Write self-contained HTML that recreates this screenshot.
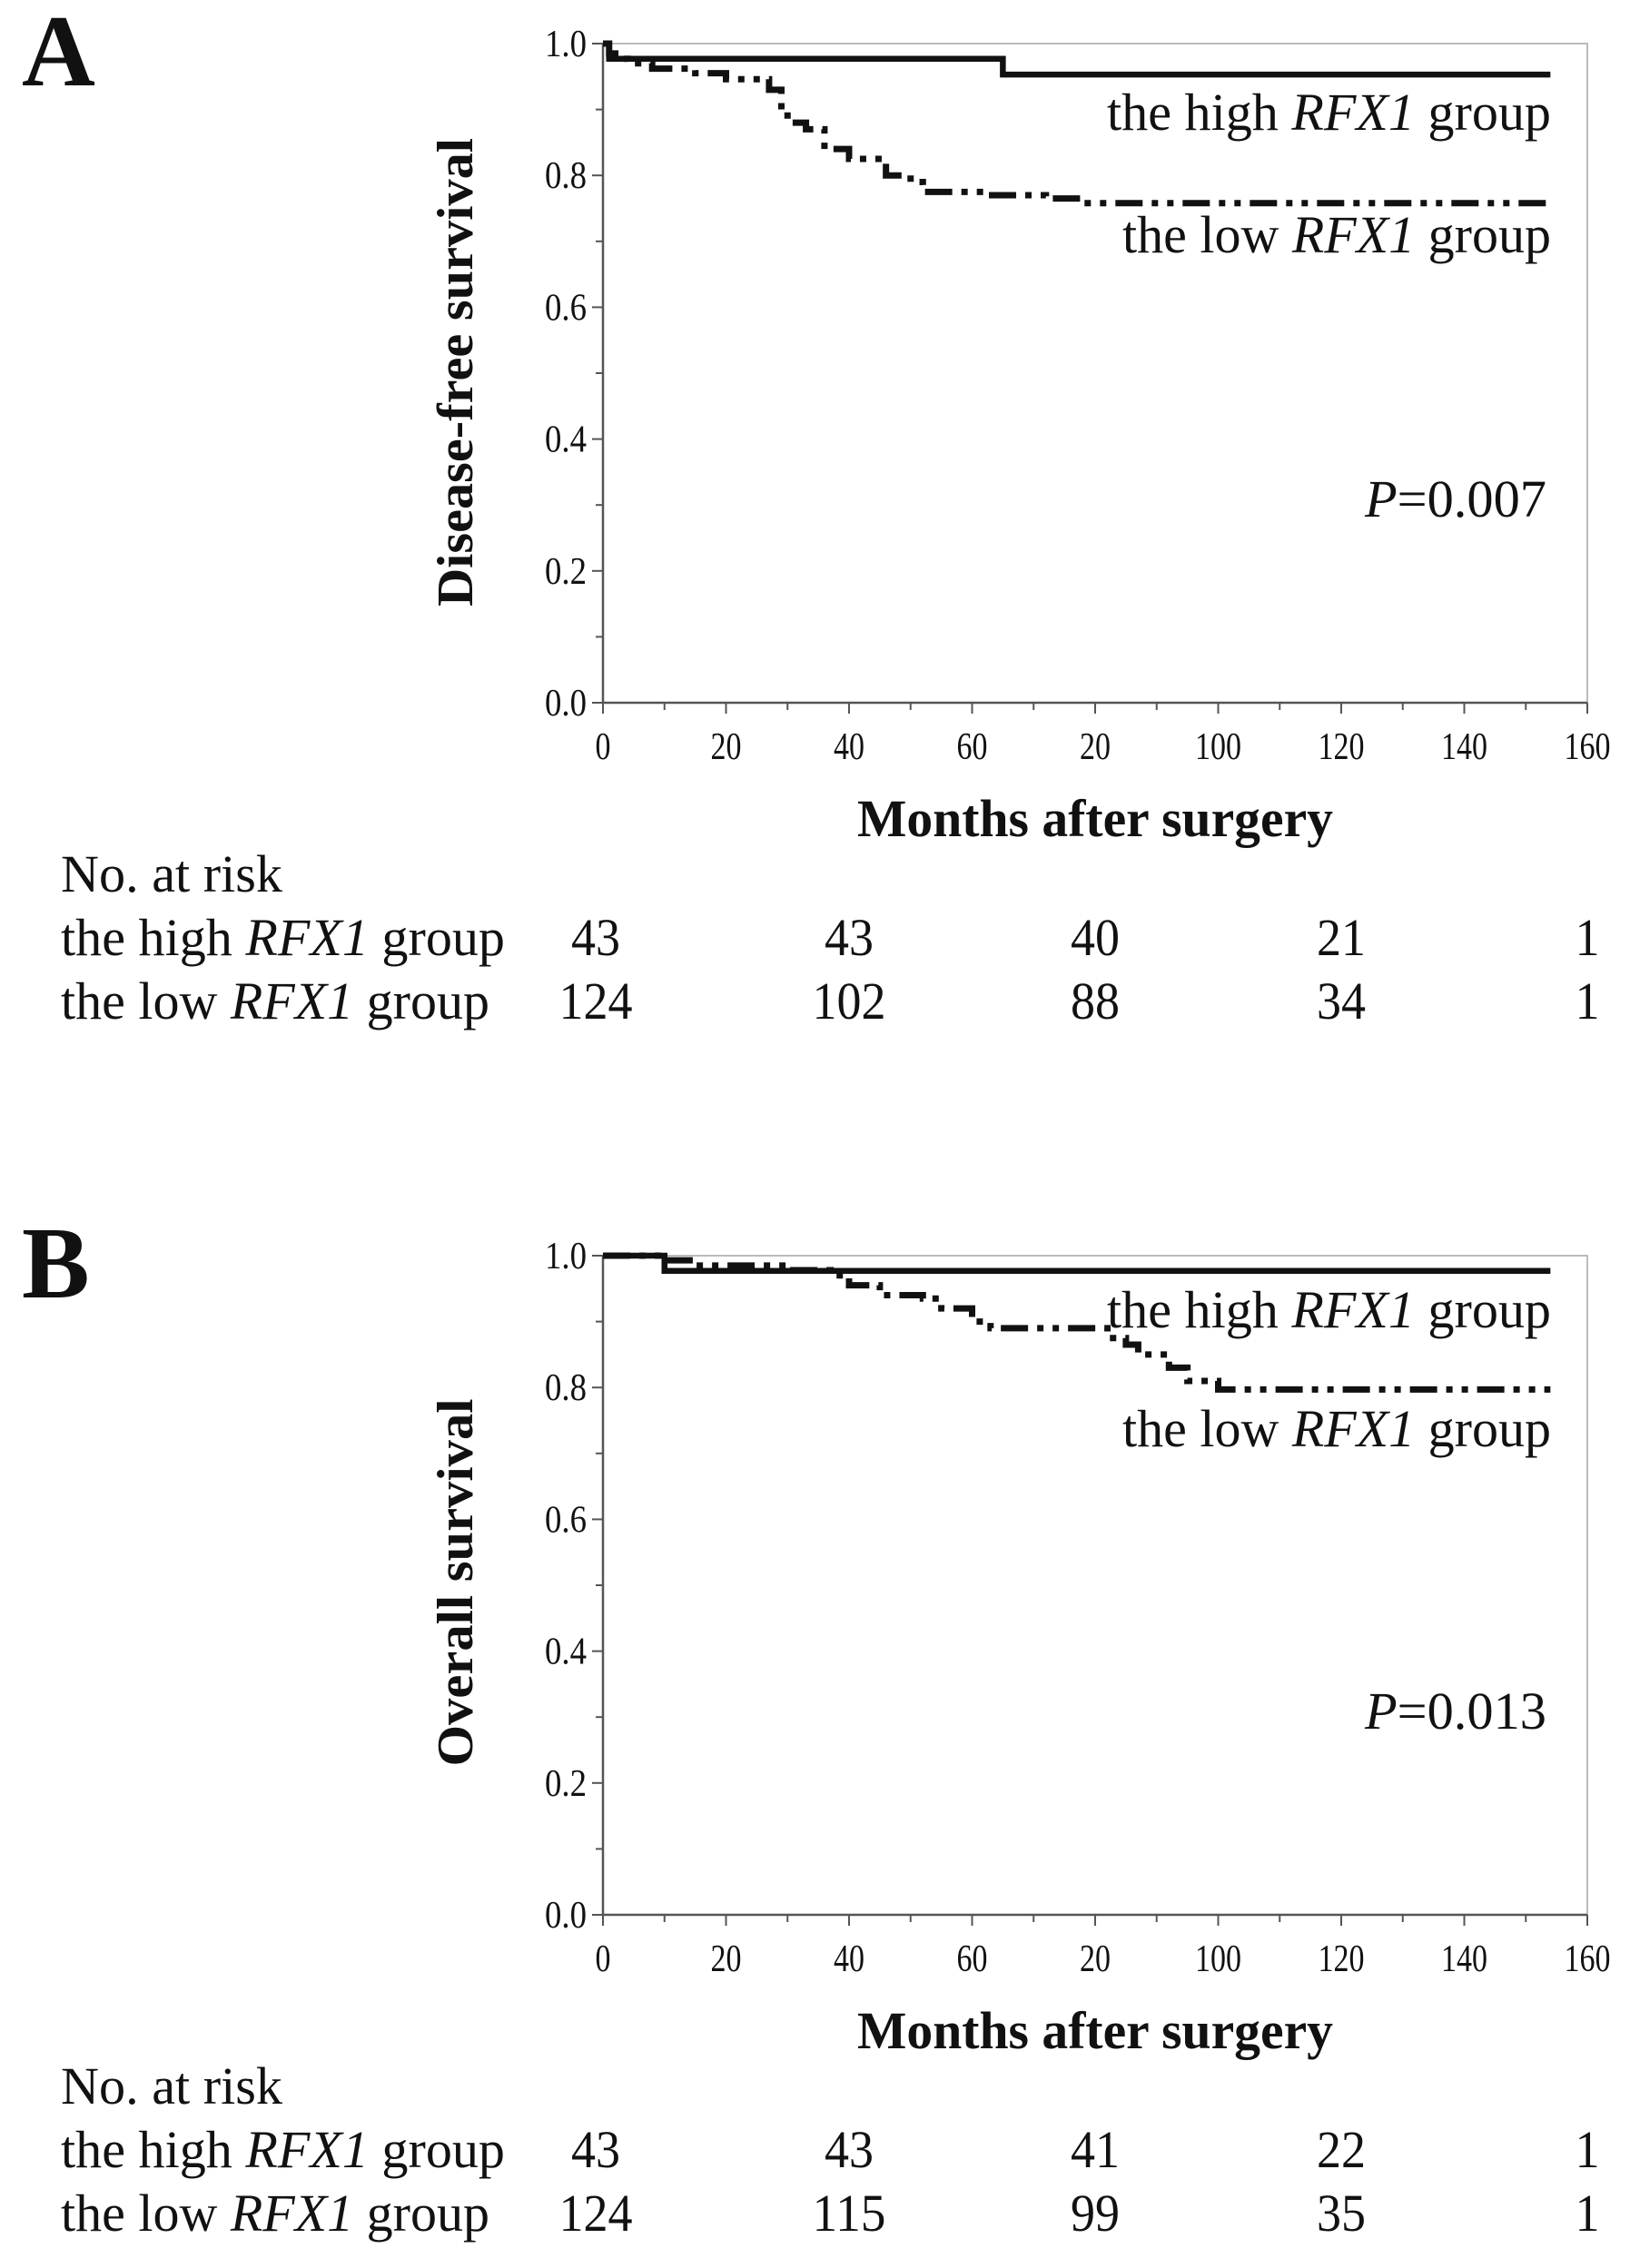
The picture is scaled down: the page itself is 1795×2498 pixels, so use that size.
<!DOCTYPE html>
<html><head><meta charset="utf-8"><style>
html,body{margin:0;padding:0;background:#fff}
svg{display:block}
text{font-family:"Liberation Serif",serif;fill:#111}
</style></head><body>
<svg id="c" width="1795" height="2498" viewBox="0 0 1795 2498" xmlns="http://www.w3.org/2000/svg"></svg>
<script>
// Panel A data (disease-free survival)
const aHighX=[0,1,65,154];
const aHighY=[1.0,0.977,0.953,0.953];
const aLowX=[0,1,2,4,8,15,20,27,29,30,33,36,40,46,50,52,62,72,78,154];
const aLowY=[1.0,0.985,0.977,0.97,0.962,0.955,0.946,0.93,0.9,0.88,0.87,0.84,0.825,0.8,0.79,0.775,0.77,0.765,0.758,0.758];
const aRiskHigh=["43","43","40","21","1"];
const aRiskLow=["124","102","88","34","1"];
// Panel B data (overall survival)
const bHighX=[0,10,154];
const bHighY=[1.0,0.977,0.977];
const bLowX=[0,10,15,30,37,40,45,52,55,60,63,82,85,87,92,95,100,154];
const bLowY=[1.0,0.993,0.985,0.978,0.97,0.955,0.94,0.935,0.92,0.9,0.89,0.875,0.865,0.85,0.83,0.81,0.797,0.797];
const bRiskHigh=["43","43","41","22","1"];
const bRiskLow=["124","115","99","35","1"];
const xTickVals=[0,20,40,60,80,100,120,140,160];
const xTickLabels=["0","20","40","60","20","100","120","140","160"];
const yTickVals=[0,0.2,0.4,0.6,0.8,1.0];
const yTickLabels=["0.0","0.2","0.4","0.6","0.8","1.0"];
const riskTimes=[0,40,80,120,160];

const NS="http://www.w3.org/2000/svg";
const svg=document.getElementById('c');
function mk(tag,attrs,parent,txt){const e=document.createElementNS(NS,tag);for(const k in attrs)e.setAttribute(k,attrs[k]);if(txt!==undefined)e.textContent=txt;(parent||svg).appendChild(e);return e;}

function panel(off,letter,ytitle,ytLen,ytCy,legHi,legLo,pval,hx,hy,lx,ly,rh,rl,nm){
  const g=mk('g',{});
  
  
  const L=664,R=1748,T=48+off,B=774+off;
  const X=v=>L+(v/160)*(R-L);
  const Y=v=>B-v*(B-T);
  const lt=mk('text',{x:24,y:94+off,'font-size':112,'font-weight':'bold'},g,letter);
  
  
  const fr=mk('rect',{x:L,y:T,width:R-L,height:B-T,fill:'none',stroke:'#bbb','stroke-width':2},g);
  
  
  const ax=mk('path',{d:`M${L},${T} V${B} H${R}`,fill:'none',stroke:'#555','stroke-width':2.5},g);
  
  
  for(let v=0;v<=160;v+=10){mk('line',{x1:X(v),x2:X(v),y1:B,y2:B+(v%20===0?12:8),stroke:'#555','stroke-width':2},g);}
  for(let i=0;i<=10;i++){const v=i/10;mk('line',{x1:L,x2:L-(i%2===0?12:8),y1:Y(v),y2:Y(v),stroke:'#555','stroke-width':2},g);}
  xTickVals.forEach((v,i)=>{const s=xTickLabels[i];const t=mk('text',{x:X(v),y:B+62,'font-size':42,'text-anchor':'middle',textLength:s.length*17,lengthAdjust:'spacingAndGlyphs'},g,s);
    
    });
  yTickVals.forEach((v,i)=>{const t=mk('text',{x:L-18,y:Y(v)+14,'font-size':42,'text-anchor':'end',textLength:46,lengthAdjust:'spacingAndGlyphs'},g,yTickLabels[i]);
    
    });
  const xt=mk('text',{x:1206,y:B+147,'font-size':58,'font-weight':'bold','text-anchor':'middle',textLength:524,lengthAdjust:'spacingAndGlyphs'},g,'Months after surgery');
  
  
  const yt=mk('text',{x:0,y:0,'font-size':56,'font-weight':'bold','text-anchor':'middle',transform:`translate(520,${ytCy+off}) rotate(-90)`,textLength:ytLen,lengthAdjust:'spacingAndGlyphs'},g,ytitle);
  
  
  function step(xs,ys){let d=`M${X(xs[0])},${Y(ys[0])}`;for(let i=1;i<xs.length;i++){d+=` H${X(xs[i])} V${Y(ys[i])}`;}return d;}
  const ph=mk('path',{d:step(hx,hy),fill:'none',stroke:'#111','stroke-width':6.5},g);
  
  
  const pl=mk('path',{d:step(lx,ly),fill:'none',stroke:'#111','stroke-width':7,'stroke-dasharray':'30,10,7,10,7,10'},g);
  
  
  function grp(x,y,pre,len,fs,anchor,nmv){const t=mk('text',{x:x,y:y,'font-size':fs,'text-anchor':anchor,textLength:len,lengthAdjust:'spacingAndGlyphs'},g);
    
    
    mk('tspan',{},t,pre);mk('tspan',{'font-style':'italic'},t,'RFX1');mk('tspan',{},t,' group');return t;}
  grp(1708,legHi+off,'the high ',489,58,'end','legend-high-group');
  grp(1708,legLo+off,'the low ',472,58,'end','legend-low-group');
  const p=mk('text',{x:1703,y:569+off,'font-size':58,'text-anchor':'end',textLength:200,lengthAdjust:'spacingAndGlyphs'},g);
  
  
  mk('tspan',{'font-style':'italic'},p,'P');mk('tspan',{},p,'='+pval);
  const nr=mk('text',{x:67,y:982+off,'font-size':58,textLength:244,lengthAdjust:'spacingAndGlyphs'},g,'No. at risk');
  
  
  function row(y,pre,len,vals,nmv){
    grp(67,y,pre,len,58,'start',nmv+'-label');
    vals.forEach((v,i)=>{const n=mk('text',{x:X(riskTimes[i])+(i===0?-8:0),y:y,'font-size':58,'text-anchor':'middle',textLength:v.length*27,lengthAdjust:'spacingAndGlyphs'},g,v);
      
      });}
  row(1052+off,'the high ',489,rh,'risk-high');
  row(1122+off,'the low ',472,rl,'risk-low');
}
panel(0,'A','Disease-free survival',516,410,143,278,'0.007',aHighX,aHighY,aLowX,aLowY,aRiskHigh,aRiskLow,'a');
panel(1335,'B','Overall survival',405,408,127,258,'0.013',bHighX,bHighY,bLowX,bLowY,bRiskHigh,bRiskLow,'b');
</script>
</body></html>
